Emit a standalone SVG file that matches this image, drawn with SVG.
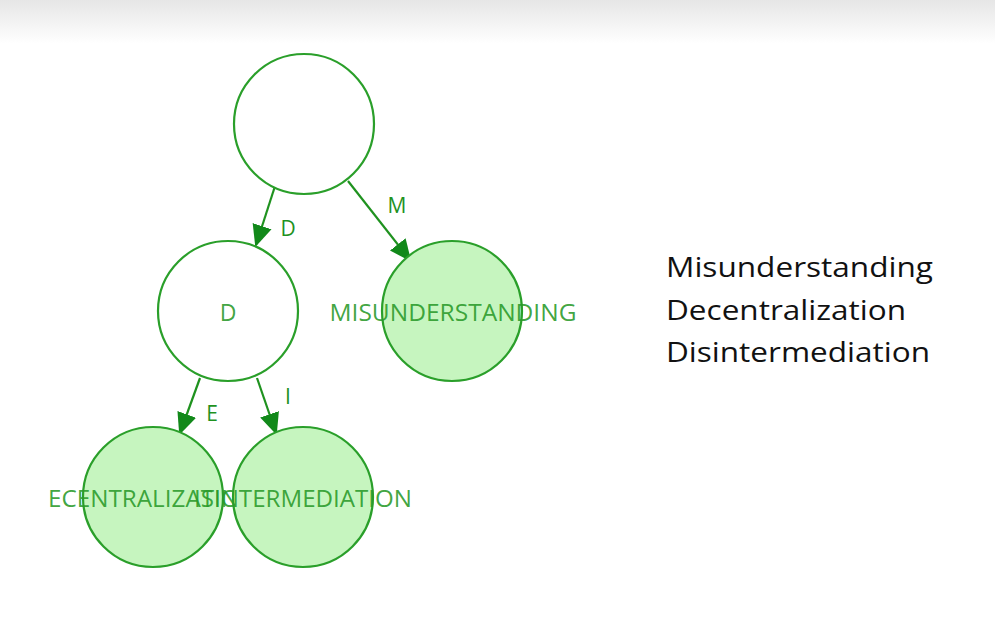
<svg xmlns="http://www.w3.org/2000/svg" width="995" height="637" viewBox="0 0 995 637">
<defs>
<linearGradient id="top" x1="0" y1="0" x2="0" y2="1">
<stop offset="0" stop-color="#e6e6e6"/>
<stop offset="1" stop-color="#ffffff"/>
</linearGradient>
<marker id="arr" viewBox="0 0 10 10" refX="9" refY="5" markerWidth="10" markerHeight="10" markerUnits="strokeWidth" orient="auto">
<path d="M0,0.5 L10,5 L0,9.5 z" fill="#12891a"/>
</marker>
<style>
.n{stroke:#2a9f2a;stroke-width:2.2}
.w{fill:#ffffff}
.g{fill:#c6f5bf}
.e{stroke:#1f921f;stroke-width:2.2;fill:none;marker-end:url(#arr)}
.t{font-family:"Open Sans","Liberation Sans",sans-serif;font-size:23px;fill:#2a9a2a;fill-opacity:0.9;text-anchor:middle;dominant-baseline:central}
.el{font-family:"Open Sans","Liberation Sans",sans-serif;font-size:21px;fill:#1f921f;text-anchor:middle;dominant-baseline:central}
.r{font-family:"Open Sans","Liberation Sans",sans-serif;font-size:27px;fill:#111}
</style>
</defs>
<rect width="995" height="637" fill="#fff"/>
<rect width="995" height="44" fill="url(#top)"/>
<g id="edges">
<line class="e" x1="276" y1="183" x2="256" y2="245"/>
<line class="e" x1="348" y1="181" x2="410" y2="260"/>
<line class="e" x1="200" y1="378" x2="180" y2="433"/>
<line class="e" x1="257" y1="378" x2="276" y2="433"/>
<text class="el" x="288" y="228">D</text>
<text class="el" x="397" y="205">M</text>
<text class="el" x="212" y="413">E</text>
<text class="el" x="288" y="396">I</text>
</g>
<g id="root"><circle class="n w" cx="304" cy="124" r="70"/></g>
<g id="nodeD"><circle class="n w" cx="228" cy="311" r="70"/><text class="t" x="228" y="312">D</text></g>
<g id="nodeM"><circle class="n g" cx="452" cy="311" r="70"/><text class="t" x="453" y="312" textLength="247" lengthAdjust="spacingAndGlyphs">MISUNDERSTANDING</text></g>
<g id="nodeE"><circle class="n g" cx="153" cy="497" r="70"/><text class="t" x="153" y="498" textLength="210" lengthAdjust="spacingAndGlyphs">ECENTRALIZATION</text></g>
<g id="nodeI"><circle class="n g" cx="303" cy="497" r="70"/><text class="t" x="303" y="498" textLength="218" lengthAdjust="spacingAndGlyphs">ISINTERMEDIATION</text></g>
<g id="words">
<text class="r" x="666" y="277" textLength="267" lengthAdjust="spacingAndGlyphs">Misunderstanding</text>
<text class="r" x="666" y="320" textLength="240" lengthAdjust="spacingAndGlyphs">Decentralization</text>
<text class="r" x="666" y="362" textLength="264" lengthAdjust="spacingAndGlyphs">Disintermediation</text>
</g>
</svg>
